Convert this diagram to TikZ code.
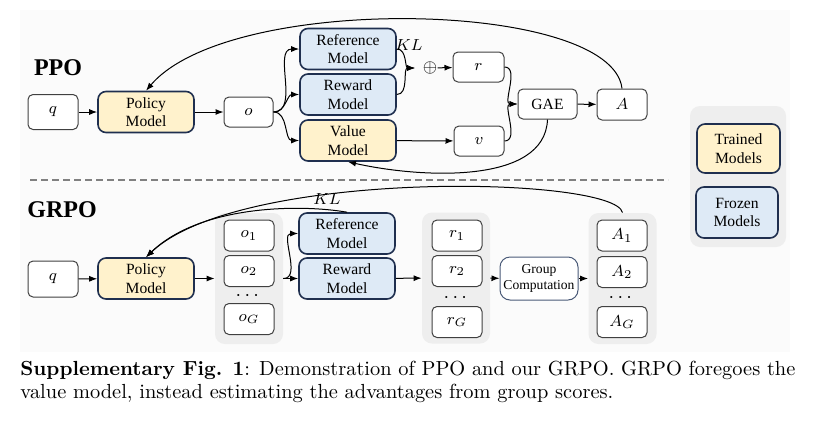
\documentclass[tikz,border=0pt]{standalone}
\usepackage{amsmath}
\usepackage{amssymb}
\usepackage{fontspec}
\newfontfamily\tnr{Liberation Serif}
\usetikzlibrary{arrows.meta}
\definecolor{trainfill}{HTML}{FFF2CC}
\definecolor{frozenfill}{HTML}{DEEAF6}
\definecolor{modeledge}{HTML}{1F2F4F}
\definecolor{groupgray}{HTML}{EEEEEE}
\definecolor{gcedge}{HTML}{4A5A78}
\definecolor{bgfill}{HTML}{FBFBFB}

\begin{document}
\begin{tikzpicture}[x=0.5pt, y=-0.5pt, >={Latex[length=4pt,width=3pt]},
  every node/.style={inner sep=0pt},
  plainbox/.style={draw=black!75, fill=white, rounded corners=2.5pt, line width=0.5pt,
    font=\fontsize{8.5}{10}\selectfont},
  small/.style={plainbox, minimum width=25pt, minimum height=15.5pt},
  modelbox/.style={draw=modeledge, line width=0.8pt, rounded corners=4pt, align=center,
    font=\tnr\fontsize{7.8}{9.3}\selectfont, minimum width=48pt, minimum height=20.5pt},
  trained/.style={modelbox, fill=trainfill},
  frozen/.style={modelbox, fill=frozenfill},
  groupbg/.style={fill=groupgray, rounded corners=5pt, minimum width=34pt, minimum height=65.5pt},
  title/.style={font=\tnr\bfseries\fontsize{12}{13}\selectfont},
  link/.style={line width=0.5pt}
]
  \useasboundingbox (0,0) rectangle (813,424);
  \fill[bgfill] (20,10) rectangle (790,352);

  %% PPO
  \node[title] (ppo) at (58,68) {PPO};
  \node[plainbox, minimum width=25pt, minimum height=17.5pt] (q) at (53,112) {$q$};
  \node[trained] (policy) at (146,112) {Policy\\Model};
  \node[plainbox, minimum width=24.5pt, minimum height=15pt] (o) at (248.5,112) {$o$};
  \node[frozen] (ref) at (348,49) {Reference\\Model};
  \node[frozen] (reward) at (348,94.5) {Reward\\Model};
  \node[trained] (value) at (348,140.5) {Value\\Model};
  \coordinate (kl) at (415,68);
  \node[font=\fontsize{8}{9}\selectfont] (klppo) at (409,45) {$KL$};
  \node[font=\fontsize{9}{10}\selectfont] (oplus) at (430,68) {$\oplus$};
  \node[plainbox, minimum width=25.5pt, minimum height=15pt] (r) at (478.5,67) {$r$};
  \node[plainbox, minimum width=25pt, minimum height=15pt] (v) at (479,141) {$v$};
  \node[plainbox, minimum width=29.5pt, minimum height=15pt, font=\tnr\fontsize{7.8}{9}\selectfont] (gae) at (547.5,104) {GAE};
  \node[plainbox, minimum width=25pt, minimum height=15.5pt] (A) at (622,104.5) {$A$};

  \draw[->, link] (q) -- (policy);
  \draw[->, link] (policy) -- (o);
  \draw[->, link] (o.east) to[out=0, in=180] (ref.west);
  \draw[->, link] (o.east) to[out=0, in=180] (reward.west);
  \draw[->, link] (o.east) to[out=0, in=180] (value.west);
  \draw[->, link] (ref.east) to[out=0, in=180] (kl); %% KL
  \draw[->, link] (reward.east) to[out=0, in=180] (kl);
  \draw[->, link] (oplus) -- (r);
  \draw[->, link] (r.east) to[out=0, in=180] (gae.west);
  \draw[->, link] (v.east) to[out=0, in=180] (gae.west);
  \draw[->, link] (value) -- (v);
  \draw[->, link] (gae) -- (A);
  \draw[->, link] (A.north) .. controls (612,0) and (230,-8) .. (policy.north); %% A->Policy
  \draw[->, link] (gae.south) .. controls (545,185) and (420,178) .. (value.south); %% GAE->Value

  \draw[gray, line width=1pt, dash pattern=on 3.5pt off 2pt] (30,180) -- (668,180);

  %% legend
  \node[groupbg, minimum width=48pt, minimum height=70.5pt] (legend) at (738,176.5) {};
  \node[trained, minimum width=41.5pt, minimum height=24.5pt] (trainedkey) at (738.5,148.5) {Trained\\Models};
  \node[frozen, minimum width=41pt, minimum height=25.5pt] (frozenkey) at (737,212.5) {Frozen\\Models};

  %% GRPO
  \node[title] (grpo) at (62,210) {GRPO};
  \node[plainbox, minimum width=25pt, minimum height=18pt] (q2) at (53,279) {$q$};
  \node[trained] (policy2) at (146,278.5) {Policy\\Model};

  \node[groupbg] (ogroup) at (249,278.5) {};
  \node[small] (o1) at (249,235.5) {$o_1$};
  \node[small] (o2) at (249,271) {$o_2$};
  \node (odots) at (249,296) {$\cdots$};
  \node[small] (oG) at (249,319) {$o_G$};

  \node[frozen] (ref2) at (347,233.5) {Reference\\Model};
  \node[frozen] (reward2) at (347,278.5) {Reward\\Model};

  \node[groupbg] (rgroup) at (456,278) {};
  \node[small] (r1) at (457,235.5) {$r_1$};
  \node[small] (r2) at (457,271) {$r_2$};
  \node (rdots) at (457,298) {$\cdots$};
  \node[small] (rG) at (457,322) {$r_G$};

  \node[plainbox, draw=gcedge, rounded corners=5pt, align=center, minimum width=39pt, minimum height=21.5pt,
    font=\tnr\fontsize{6.8}{8.2}\selectfont] (gc) at (539,278.5) {Group\\Computation};

  \node[groupbg] (agroup) at (622.5,278.5) {};
  \node[small] (A1) at (622,235.5) {$A_1$};
  \node[small] (A2) at (622,272) {$A_2$};
  \node (adots) at (622,298) {$\cdots$};
  \node[small] (AG) at (622,322) {$A_G$};
  \node[font=\fontsize{8}{9}\selectfont] (klgrpo) at (327,199) {$KL$};

  \draw[->, link] (q2) -- (policy2);
  \draw[->, link] (policy2) -- (ogroup);
  \draw[->, link] (ogroup.east) to[out=0, in=180] (ref2.west);
  \draw[->, link] (ogroup.east) -- (reward2.west);
  \draw[->, link] (reward2) -- (rgroup);
  \draw[->, link] (rgroup) -- (gc);
  \draw[->, link] (gc) -- (agroup);
  \draw[->, link] (ref2.north) .. controls (300,204) and (200,205) .. (policy2.north); %% KL
  \draw[->, link] (agroup.north) .. controls (615,176) and (240,168) .. (policy2.north); %% A->Policy

  %% caption
  \node[anchor=north west, text width=387.5pt, align=justify, font=\fontsize{10.2}{11.5}\selectfont] (caption) at (20,361)
    {\textbf{Supplementary Fig. 1}: Demonstration of PPO and our GRPO. GRPO foregoes the\linebreak
     value model, instead estimating the advantages from group scores.};
\end{tikzpicture}
\end{document}
